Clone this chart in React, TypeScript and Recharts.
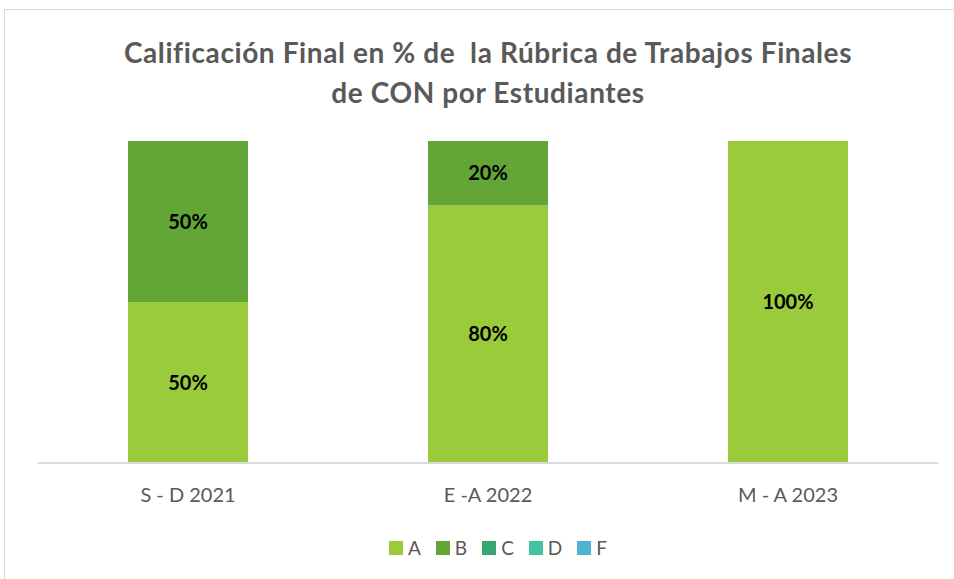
import React from 'react'
import { BarChart, Bar, XAxis, YAxis, Legend, LabelList } from 'recharts'

const periods = ['S - D 2021', 'E -A 2022', 'M - A 2023']
const gradeA = [50, 80, 100]
const gradeB = [50, 20, 0]
const gradeC = [0, 0, 0]
const gradeD = [0, 0, 0]
const gradeF = [0, 0, 0]

const series = [
  { key: 'A', values: gradeA, color: '#9ACB3A' },
  { key: 'B', values: gradeB, color: '#63A537' },
  { key: 'C', values: gradeC, color: '#36A76F' },
  { key: 'D', values: gradeD, color: '#45C2A4' },
  { key: 'F', values: gradeF, color: '#4CB3D0' },
]

const data = periods.map((p, i) => {
  const row: { [k: string]: string | number } = { period: p }
  series.forEach(s => {
    row[s.key] = s.values[i]
  })
  return row
})

const font = 'Lato, "Open Sans", sans-serif'

const Tick = (props: any) => {
  const { x, y, payload } = props
  return (
    <text x={x} y={y} dy={37} textAnchor="middle" fill="#595959" fontSize={20} fontFamily={font}>
      {payload.value}
    </text>
  )
}

const LegendBox = () => (
  <div style={{ height: 40, display: 'flex', justifyContent: 'center', gap: 15, paddingLeft: 20, fontFamily: font }}>
    {series.map(s => (
      <div key={s.key} style={{ display: 'flex', alignItems: 'center', height: 18 }}>
        <span style={{ width: 14, height: 14, background: s.color, display: 'inline-block', marginRight: 5 }} />
        <span style={{ color: '#595959', fontSize: 19, lineHeight: '18px' }}>{s.key}</span>
      </div>
    ))}
  </div>
)

export default function App() {
  return (
    <div style={{ position: 'absolute', left: 0, top: 0, width: 954, height: 579, background: '#fff', overflow: 'hidden' }}>
      <div
        style={{
          position: 'absolute',
          left: 4,
          top: 9,
          width: 980,
          height: 600,
          border: '1px solid #d9d9d9',
        }}
      />
      <div
        style={{
          position: 'absolute',
          left: 0,
          top: 32,
          width: 976,
          textAlign: 'center',
          fontFamily: font,
          fontWeight: 700,
          fontSize: 28,
          letterSpacing: 0.6,
          lineHeight: '40px',
          color: '#595959',
        }}
      >
        Calificación Final en % de&nbsp; la Rúbrica de Trabajos Finales
        <br />
        de CON por Estudiantes
      </div>
      <div style={{ position: 'absolute', left: 0, top: 0 }}>
        <BarChart
          width={954}
          height={579}
          data={data}
          margin={{ top: 141, right: 16, bottom: 0, left: 38 }}
          barSize={120}
        >
          <XAxis
            dataKey="period"
            height={76}
            tickLine={false}
            tickSize={0}
            axisLine={{ stroke: '#d9d9d9', strokeWidth: 2 }}
            tick={<Tick />}
          />
          <YAxis hide domain={[0, 100]} />
          <Legend verticalAlign="bottom" content={<LegendBox />} />
          {series.map(s => (
            <Bar key={s.key} dataKey={s.key} stackId="g" fill={s.color} isAnimationActive={false}>
              <LabelList
                dataKey={s.key}
                position="center"
                formatter={(v: any) => (v ? `${v}%` : '')}
                fill="#000"
                fontSize={20}
                fontWeight={700}
                fontFamily={font}
              />
            </Bar>
          ))}
        </BarChart>
      </div>
    </div>
  )
}
